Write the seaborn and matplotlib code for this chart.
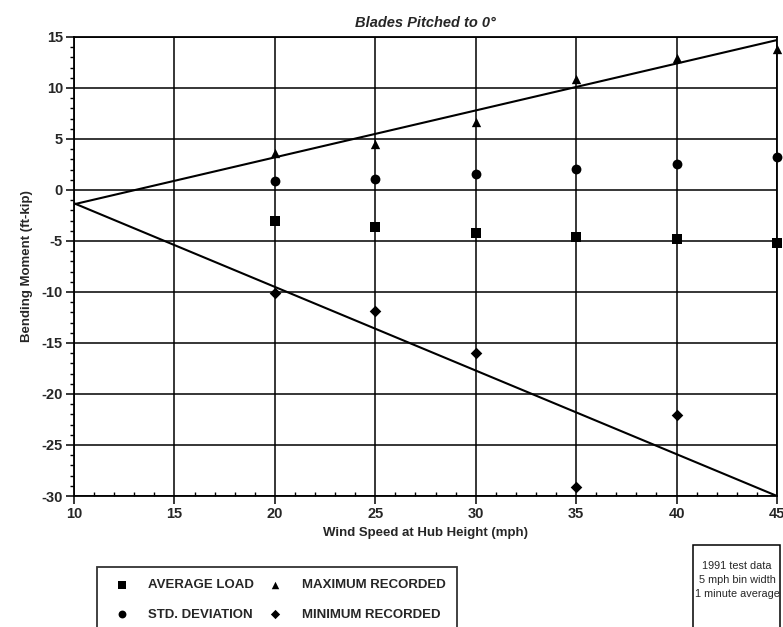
import matplotlib
matplotlib.use("Agg")
import matplotlib.pyplot as plt
import seaborn as sns
import numpy as np
import pandas as pd
from matplotlib.ticker import MultipleLocator
from matplotlib.patches import Rectangle

# ---- data ----
wind_speed = [20, 25, 30, 35, 40, 45]
average_load = [-3.0, -3.6, -4.25, -4.6, -4.8, -5.2]
std_deviation = [0.9, 1.1, 1.6, 2.1, 2.55, 3.2]
maximum_recorded = [3.6, 4.5, 6.7, 10.9, 12.9, 13.8]
minimum_recorded = [-10.1, -11.9, -16.0, -29.1, -22.1, np.nan]
envelope_x = [10, 45]
envelope_upper = [-1.4, 14.7]
envelope_lower = [-1.3, -30.0]
x_ticks = [10, 15, 20, 25, 30, 35, 40, 45]
y_ticks = [-30, -25, -20, -15, -10, -5, 0, 5, 10, 15]

sns.set_style("white")
plt.rcParams['font.family'] = ['Liberation Sans', 'DejaVu Sans']
plt.rcParams['axes.unicode_minus'] = False

fig = plt.figure(figsize=(7.83, 6.27), dpi=100)
ax = fig.add_axes([74/783, 1-496/627, (777-74)/783, (496-37)/627])

# grid
ax.set_axisbelow(True)
ax.grid(True, color='black', linewidth=1.1)

# envelope lines
env = pd.DataFrame({'x': envelope_x, 'upper': envelope_upper, 'lower': envelope_lower})
sns.lineplot(data=env, x='x', y='upper', ax=ax, color='black', linewidth=1.5)
sns.lineplot(data=env, x='x', y='lower', ax=ax, color='black', linewidth=1.5)

df = pd.DataFrame({'ws': wind_speed, 'avg': average_load, 'std': std_deviation,
                   'max': maximum_recorded, 'min': minimum_recorded})
kw = dict(color='black', edgecolor='black', linewidth=0, ax=ax, zorder=5, clip_on=False)
sns.scatterplot(data=df, x='ws', y='avg', marker='s', s=45, label='AVERAGE LOAD', **kw)
sns.scatterplot(data=df, x='ws', y='std', marker='o', s=50, label='STD. DEVIATION', **kw)
sns.scatterplot(data=df, x='ws', y='max', marker='^', s=45, label='MAXIMUM RECORDED', **kw)
sns.scatterplot(data=df, x='ws', y='min', marker='D', s=35, label='MINIMUM RECORDED', **kw)

ax.set_xlim(10, 45)
ax.set_ylim(-30, 15)
ax.set_xticks(x_ticks)
ax.set_yticks(y_ticks)
ax.xaxis.set_minor_locator(MultipleLocator(1))
ax.yaxis.set_minor_locator(MultipleLocator(1))
ax.tick_params(axis='both', which='major', length=6, width=1.1, direction='out',
               labelsize=10.5, pad=2, color='black')
ax.tick_params(axis='x', which='minor', length=3, width=1, direction='in', color='black')
ax.tick_params(axis='y', which='minor', length=3, width=1, direction='out', color='black')
ax.tick_params(axis='x', which='both', bottom=True)
ax.tick_params(axis='y', which='both', left=True)
for lbl in ax.get_xticklabels() + ax.get_yticklabels():
    lbl.set_fontweight('bold')
for sp in ax.spines.values():
    sp.set_color('black')
    sp.set_linewidth(1.3)

ax.set_xlabel('Wind Speed at Hub Height (mph)', fontsize=9.5, fontweight='bold', labelpad=4)
ax.set_ylabel('Bending Moment (ft-kip)', fontsize=9.5, fontweight='bold', labelpad=6)
ax.set_title('Blades Pitched to 0°', fontsize=10.5, fontweight='bold', style='italic', pad=7)

handles, labels = ax.get_legend_handles_labels()
ax.get_legend().remove()
leg = fig.legend(handles, labels, ncol=2, loc='upper left',
                 bbox_to_anchor=(90/783, 1-567/627, (464-90)/783, 0.01), mode='expand',
                 frameon=True, fancybox=False, edgecolor='black', fontsize=9.5,
                 labelspacing=1.3, borderpad=0.9, handletextpad=1.0, markerscale=0.8,
                 columnspacing=2.0)
leg.get_frame().set_linewidth(1.3)
for t in leg.get_texts():
    t.set_fontweight('bold')

fig.add_artist(Rectangle((693/783, -0.05), (780-693)/783, (1-545/627) + 0.05,
                         transform=fig.transFigure, facecolor='white',
                         edgecolor='black', linewidth=1.1))
fig.text(737/783, 1-580/627, '1991 test data\n5 mph bin width\n1 minute average',
         ha='center', va='center', fontsize=7.8, linespacing=1.55)

fig.savefig('out.png', dpi=100)
